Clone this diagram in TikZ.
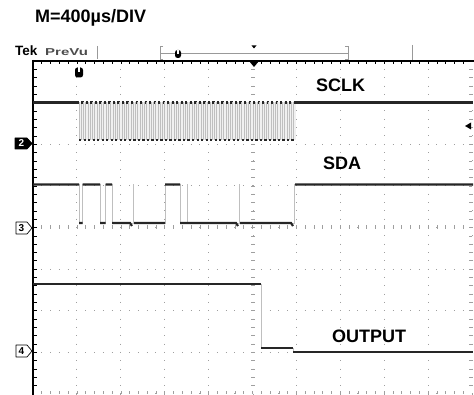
\documentclass[tikz,border=0pt]{standalone}
\usepackage{fontspec}
\setmainfont{Liberation Sans}
\tikzset{
    frame line/.style = {
        line width=2pt,
        },
    frame tick/.style = {
        line width=0.6pt,
        },
    hgrid/.style = {
        gray!75,
        line width=0.9pt,
        dash pattern=on 0.9pt off 7.88pt,
        dash phase=0.45pt,
        },
    vgrid/.style = {
        gray!75,
        line width=0.9pt,
        dash pattern=on 0.9pt off 7.425pt,
        dash phase=0.45pt,
        },
    axis tick/.style = {
        gray!75,
        line width=0.6pt,
        },
    trace/.style = {
        black!85,
        line width=2.2pt,
        },
    edge/.style = {
        gray!50,
        line width=0.8pt,
        },
    burst/.style = {
        fill = gray!12,
        },
    sig label/.style = {
        font=\bfseries\fontsize{18}{20}\selectfont,
        inner sep=0pt,
        anchor=base west,
        },
    ch flag/.style = {
        line width=0.7pt,
        line join=round,
        },
    ch text/.style = {
        inner sep=0pt,
        font=\bfseries\fontsize{10}{10}\selectfont,
        },
    bar/.style = {
        gray!80,
        line width=0.8pt,
        },
    trig mark/.style = {
        fill = black,
        rounded corners=2.5pt,
        inner sep=0pt,
        },
}

\begin{document}
\begin{tikzpicture}[x=1pt, y=-1pt]
    \useasboundingbox (0,0) rectangle (474,395);

    % header
    \node [sig label] (mdiv) at (35,23) {M=400µs/DIV};
    \node [inner sep=0pt, anchor=base west, font=\bfseries\fontsize{13.5}{13}\selectfont] (tek) at (15,56) {Tek};
    \node [inner sep=0pt, anchor=base west, text=black!70] (prevu) at (45,55.5) {\scalebox{1.5}[1]{\bfseries\fontsize{10}{10}\selectfont PreVu}};

    % record bar
    \draw [bar] (97,46) -- (97,59);
    \draw [bar] (412,45) -- (412,60);
    \draw [bar] (163,46) -- (160,46) -- (160,59) -- (163,59);
    \draw [bar] (345,46) -- (348,46) -- (348,59) -- (345,59);
    \draw [bar] (160,53) -- (348,53);
    \node [trig mark, minimum width=6pt, minimum height=8pt] (barU) at (178,54) {};
    \fill [white] (177.4,50) rectangle (178.6,54);
    \fill (251.5,45.5) -- (256.5,45.5) -- (254,48.5) -- cycle;

    % graticule
    \foreach \i in {1,2,3,4,6,7,8,9}
        \draw [vgrid] ({33+\i*43.9},61) -- ({33+\i*43.9},394);
    \foreach \j in {1,2,3,5,6,7}
        \draw [hgrid] (33,{61+\j*41.625}) -- (472,{61+\j*41.625});
    \draw [vgrid] (253,61) -- (253,394);
    \draw [hgrid] (33,227.5) -- (472,227.5);
    \draw [vgrid] (472,61) -- (472,394);
    \draw [hgrid] (33,393.5) -- (472,393.5);
    \foreach \j in {1,...,49} {
        \draw [axis tick] ({33+\j*8.78},225.5) -- ++(0,4);
        \draw [axis tick] ({33+\j*8.78},393.5) -- ++(0,-3);
        \draw [frame tick] ({33+\j*8.78},61) -- ++(0,3.5);
    }
    \foreach \j in {1,...,39} {
        \draw [axis tick] (251,{61+\j*8.325}) -- ++(4,0);
        \draw [axis tick] (472,{61+\j*8.325}) -- ++(-3,0);
        \draw [frame tick] (33,{61+\j*8.325}) -- ++(3.5,0);
    }
    \draw [frame line] (33,61) -- (474,61);
    \draw [frame line] (33,60) -- (33,395);
    \fill (249,61) -- (259,61) -- (254,67) -- cycle;
    \node [trig mark, minimum width=8pt, minimum height=10pt] (trigU) at (79,72.5) {};
    \fill [white] (78.2,67.5) rectangle (79.8,72.5);

    % SCLK
    \fill [burst] (79,102.5) rectangle (296,140);
    \foreach \i in {0,...,47} {
        \pgfmathsetmacro\xa{79+\i*4.52}
        \draw [edge] (\xa,102.5) -- (\xa,140) ({\xa+2.26},140) -- ({\xa+2.26},102.5);
        \draw [trace] (\xa,140) -- ++(2.26,0) ({\xa+2.26},102.5) -- ++(2.26,0);
    }
    \draw [trace] (33,102.5) -- (79,102.5) (296,102.5) -- (473,102.5);

    % SDA
    \draw [edge] (33,184.5) -| (79,223) -| (82.5,184.5) -| (100,223) -| (105.5,184.5)
        -| (112,223) -| (165,184.5) -| (180,223) -| (294.5,184.5) -- (473,184.5);
    \draw [edge] (133,223) -- (133,184.5) (187,223) -- (187,184.5) (239,223) -- (239,184.5);
    \draw [trace] (33,184.5) -- (79,184.5) (79,223) -- (82.5,223)
        (82.5,184.5) -- (100,184.5) (100,223) -- (105.5,223)
        (105.5,184.5) -- (112,184.5) (112,223) -- (130,223) -- (132,226)
        (134,223) -- (165,223) (165,184.5) -- (180,184.5)
        (180,223) -- (236,223) -- (238,226) (240,223) -- (291,223) -- (293,226)
        (295,184.5) -- (473,184.5);

    % OUTPUT
    \draw [edge] (33,284) -| (261,348) -| (293,352) -- (473,352);
    \draw [trace] (33,284) -- (261,284) (261,348) -- (293,348) (293,352) -- (473,352);

    % labels and markers
    \node [sig label] (sclk) at (316,92) {SCLK};
    \node [sig label] (sda) at (323,170) {SDA};
    \node [sig label] (output) at (332,343) {OUTPUT};

    \filldraw [ch flag] (15,138) -- (27,138) -- (32,143.5) -- (27,149) -- (15,149) -- cycle;
    \node [ch text, text=white] (chTwo) at (21.5,143.5) {2};
    \draw [ch flag, fill=white] (16,222) -- (27,222) -- (32,228) -- (27,234) -- (16,234) -- cycle;
    \node [ch text] (chThree) at (21.5,228) {3};
    \draw [ch flag, fill=white] (16,345) -- (27,345) -- (32,351) -- (27,357) -- (16,357) -- cycle;
    \node [ch text] (chFour) at (21.5,351) {4};
    \fill (465,126) -- (471,122.5) -- (471,129.5) -- cycle;
\end{tikzpicture}
\end{document}
